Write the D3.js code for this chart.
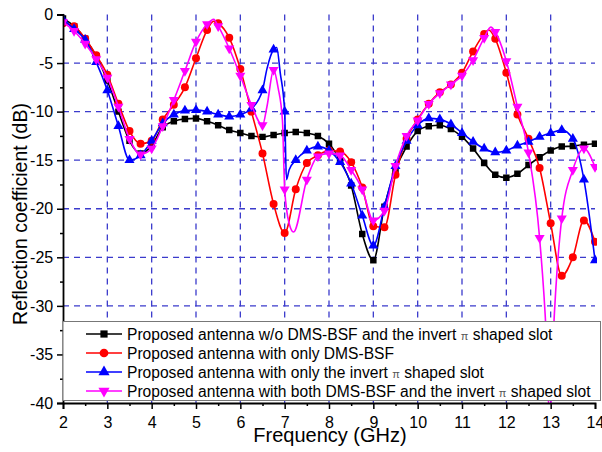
<!DOCTYPE html>
<html>
<head>
<meta charset="utf-8">
<script src="https://cdn.jsdelivr.net/npm/d3@7"></script>
<style>
  body { margin: 0; background: #fff; }
  svg { font-family: "Liberation Sans", Arial, sans-serif; }
</style>
</head>
<body>
<svg id="chart" width="602" height="452"></svg>
<script>
// --- Data ---
const xTicks = [2, 3, 4, 5, 6, 7, 8, 9, 10, 11, 12, 13, 14];
const yTicks = [0, -5, -10, -15, -20, -25, -30, -35, -40];

const legendLabels = [
  "Proposed antenna w/o DMS-BSF and the invert \u03c0 shaped slot",
  "Proposed antenna with only DMS-BSF",
  "Proposed antenna with only the invert \u03c0 shaped slot",
  "Proposed antenna with both DMS-BSF and the invert \u03c0 shaped slot"
];

// [frequency GHz, dB]
const seriesNone = [
  [2.0, -0.4], [2.25, -1.2], [2.5, -2.5], [2.75, -4.3], [3.0, -6.8], [3.25, -10.0],
  [3.5, -13.0], [3.75, -14.3], [4.0, -13.5], [4.25, -11.6], [4.5, -11.0], [4.75, -10.75],
  [5.0, -10.7], [5.25, -11.0], [5.5, -11.4], [5.75, -11.9], [6.0, -12.2], [6.25, -12.5],
  [6.5, -12.6], [6.75, -12.4], [7.0, -12.2], [7.25, -12.1], [7.5, -12.2], [7.75, -12.5],
  [8.0, -13.3], [8.25, -15.0], [8.5, -17.6], [8.75, -22.6], [9.0, -25.3], [9.25, -19.8],
  [9.5, -16.0], [9.75, -13.6], [10.0, -12.0], [10.25, -11.5], [10.5, -11.4], [10.75, -11.8],
  [11.0, -12.6], [11.25, -13.8], [11.5, -15.3], [11.75, -16.5], [12.0, -16.8], [12.25, -16.4],
  [12.5, -15.5], [12.75, -14.7], [13.0, -14.0], [13.25, -13.6], [13.5, -13.55], [13.75, -13.4],
  [14.0, -13.3]
];

const seriesDms = [
  [2.0, -0.9], [2.25, -1.2], [2.5, -2.5], [2.75, -4.2], [3.0, -6.2], [3.25, -9.2],
  [3.5, -12.0], [3.75, -13.3], [4.0, -13.0], [4.25, -10.8], [4.5, -9.3], [4.75, -7.5],
  [5.0, -4.5], [5.25, -1.6], [5.4, -0.7], [5.5, -0.9], [5.75, -2.4], [6.0, -5.6], [6.25, -10.0],
  [6.5, -14.3], [6.75, -19.5], [7.0, -22.5], [7.25, -18.0], [7.5, -15.3], [7.75, -14.5],
  [8.0, -14.0], [8.25, -14.1], [8.5, -15.2], [8.75, -17.8], [9.0, -21.8], [9.25, -21.9],
  [9.5, -16.5], [9.75, -12.8], [10.0, -10.8], [10.25, -9.2], [10.5, -8.0], [10.75, -7.2],
  [11.0, -6.0], [11.25, -3.8], [11.5, -2.0], [11.6, -1.6], [11.75, -2.5], [12.0, -6.0],
  [12.25, -10.3], [12.5, -12.8], [12.75, -15.8], [13.0, -21.5], [13.25, -26.9], [13.5, -25.0],
  [13.75, -21.2], [14.0, -23.4]
];

const seriesPi = [
  [2.0, -0.5], [2.25, -1.5], [2.5, -2.6], [2.75, -4.9], [3.0, -7.8], [3.25, -11.5],
  [3.5, -15.0], [3.75, -14.5], [4.0, -13.0], [4.25, -11.2], [4.5, -10.3], [4.75, -9.9],
  [5.0, -9.85], [5.25, -10.0], [5.5, -10.3], [5.75, -10.5], [6.0, -10.3], [6.25, -9.7],
  [6.5, -7.8], [6.6, -5.6], [6.75, -3.6], [6.82, -3.4], [6.9, -6.0], [7.0, -10.0], [7.04, -17.0],
  [7.1, -16.0], [7.25, -15.0], [7.5, -14.0], [7.75, -13.6], [8.0, -14.0], [8.25, -15.2],
  [8.5, -17.4], [8.75, -20.7], [9.0, -23.8], [9.25, -19.8], [9.5, -15.6], [9.75, -13.0],
  [10.0, -11.4], [10.25, -10.7], [10.5, -10.8], [10.75, -11.3], [11.0, -12.2], [11.25, -13.1],
  [11.5, -13.8], [11.75, -14.2], [12.0, -14.0], [12.25, -13.5], [12.5, -13.1], [12.75, -12.6],
  [13.0, -12.2], [13.25, -11.9], [13.5, -12.8], [13.75, -17.0], [14.0, -25.3]
];

const seriesBoth = [
  [2.0, -0.8], [2.25, -1.7], [2.5, -3.0], [2.75, -4.6], [3.0, -6.5], [3.25, -9.5],
  [3.5, -12.8], [3.75, -14.4], [4.0, -13.8], [4.25, -11.5], [4.5, -8.8], [4.75, -5.8],
  [5.0, -2.8], [5.25, -1.0], [5.4, -0.5], [5.5, -1.2], [5.75, -3.5], [6.0, -6.3], [6.25, -9.3],
  [6.5, -11.4], [6.6, -9.5], [6.75, -5.7], [6.85, -7.5], [6.95, -10.9], [7.0, -18.0],
  [7.1, -21.5], [7.2, -22.4], [7.5, -17.0], [7.75, -14.6], [8.0, -14.3], [8.25, -14.5],
  [8.5, -16.0], [8.75, -18.0], [9.0, -21.2], [9.25, -20.2], [9.5, -15.6], [9.75, -12.5],
  [10.0, -10.9], [10.25, -9.2], [10.5, -8.1], [10.75, -7.2], [11.0, -6.3], [11.25, -4.7],
  [11.5, -2.4], [11.65, -1.3], [11.75, -1.8], [12.0, -4.8], [12.25, -9.5], [12.5, -14.2],
  [12.75, -23.0], [12.9, -33.0], [12.98, -42.0], [13.06, -33.0], [13.25, -21.0], [13.5, -16.0],
  [13.75, -13.8], [14.0, -15.7]
];

const series = [
  { data: seriesNone, color: "#000000", marker: d3.symbolSquare, size: 42, rotate: 0 },
  { data: seriesDms, color: "#ff0000", marker: d3.symbolCircle, size: 50, rotate: 0 },
  { data: seriesPi, color: "#0000ff", marker: d3.symbolTriangle, size: 44, rotate: 0 },
  { data: seriesBoth, color: "#ff00ff", marker: d3.symbolTriangle, size: 44, rotate: 180 }
];

// --- Layout ---
const svg = d3.select("#chart");
const margin = { top: 14.5, right: 7, bottom: 49, left: 63 };
const W = 602, H = 452;
const width = W - margin.left - margin.right;
const height = H - margin.top - margin.bottom;

const x = d3.scaleLinear().domain([2, 14]).range([0, width]);
const y = d3.scaleLinear().domain([-40, 0]).range([height, 0]);

const g = svg.append("g").attr("transform", `translate(${margin.left},${margin.top})`);

g.append("clipPath").attr("id", "plotclip")
  .append("rect").attr("x", 0).attr("y", -2).attr("width", width + 2).attr("height", height + 2);

// grid
const gridColor = "#3b3bcc";
g.append("g")
  .selectAll("line")
  .data(xTicks.filter(d => d > 2 && d < 14))
  .join("line")
  .attr("x1", d => x(d)).attr("x2", d => x(d))
  .attr("y1", 0).attr("y2", height)
  .attr("stroke", gridColor).attr("stroke-width", 1.3)
  .attr("stroke-dasharray", "6,5");
g.append("g")
  .selectAll("line")
  .data(yTicks.filter(d => d < 0 && d > -40))
  .join("line")
  .attr("x1", 0).attr("x2", width)
  .attr("y1", d => y(d)).attr("y2", d => y(d))
  .attr("stroke", gridColor).attr("stroke-width", 1.3)
  .attr("stroke-dasharray", "6,5");

// curves
const line = d3.line()
  .x(d => x(d[0]))
  .y(d => y(d[1]))
  .curve(d3.curveMonotoneX);

const onMarkerGrid = f => Math.abs(f * 4 - Math.round(f * 4)) < 1e-6;

const plot = g.append("g").attr("clip-path", "url(#plotclip)");
series.forEach(s => {
  plot.append("path")
    .datum(s.data)
    .attr("fill", "none")
    .attr("stroke", s.color)
    .attr("stroke-width", 1.6)
    .attr("d", line);
  plot.selectAll(null)
    .data(s.data.filter(d => onMarkerGrid(d[0])))
    .join("path")
    .attr("d", d3.symbol().type(s.marker).size(s.size))
    .attr("transform", d => `translate(${x(d[0])},${y(d[1])}) rotate(${s.rotate})`)
    .attr("fill", s.color);
});

// legend
const legend = svg.append("g");
const lgX = margin.left, lgY = 321.5, lgW = W - 1.5 - margin.left, lgH = 79;
legend.append("rect")
  .attr("x", lgX).attr("y", lgY).attr("width", lgW).attr("height", lgH)
  .attr("fill", "#fff").attr("stroke", "#777").attr("stroke-width", 1);
series.forEach((s, i) => {
  const cy = 334 + i * 19;
  legend.append("line")
    .attr("x1", 86).attr("x2", 122).attr("y1", cy).attr("y2", cy)
    .attr("stroke", s.color).attr("stroke-width", 1.6);
  legend.append("path")
    .attr("d", d3.symbol().type(s.marker).size(s.size + 10))
    .attr("transform", `translate(104,${cy}) rotate(${s.rotate})`)
    .attr("fill", s.color);
  const parts = legendLabels[i].split("\u03c0");
  const t = legend.append("text")
    .attr("x", 127).attr("y", cy + 5.5)
    .attr("font-size", 15.6).attr("fill", "#000");
  t.append("tspan").text(parts[0]);
  if (parts.length > 1) {
    t.append("tspan").attr("font-size", 11).attr("fill", "#555").text("\u03c0");
    t.append("tspan").text(parts[1]);
  }
});

// axes
const xAxis = g.append("g").attr("transform", `translate(0,${height})`)
  .call(d3.axisBottom(x).tickValues(xTicks).tickSize(6).tickFormat(d3.format("d")));
g.append("g").attr("transform", `translate(0,${height})`)
  .call(d3.axisBottom(x).tickValues(d3.range(2.5, 14, 1)).tickSize(3).tickFormat(""))
  .select(".domain").remove();
const yAxis = g.append("g")
  .call(d3.axisLeft(y).tickValues(yTicks).tickSize(6).tickFormat(d => d === 0 ? "0" : String(d)));
g.append("g")
  .call(d3.axisLeft(y).tickValues(d3.range(-37.5, 0, 5)).tickSize(3).tickFormat(""))
  .select(".domain").remove();

g.selectAll(".domain").attr("stroke", "#000").attr("stroke-width", 1.8);
g.selectAll(".tick line").attr("stroke", "#000").attr("stroke-width", 1.5);
xAxis.selectAll("text").attr("font-size", 16).attr("fill", "#000").attr("dy", "1.0em")
  .attr("font-family", "Liberation Sans, Arial, sans-serif");
yAxis.selectAll("text").attr("font-size", 16).attr("fill", "#000").attr("dx", "-0.05em")
  .attr("font-family", "Liberation Sans, Arial, sans-serif");

// axis titles
svg.append("text")
  .attr("x", 330).attr("y", 442)
  .attr("text-anchor", "middle").attr("font-size", 20).attr("fill", "#000")
  .text("Frequency (GHz)");
svg.append("text")
  .attr("transform", `translate(27,214) rotate(-90)`)
  .attr("text-anchor", "middle").attr("font-size", 19.5).attr("fill", "#000")
  .text("Reflection coefficient (dB)");
</script>
</body>
</html>
